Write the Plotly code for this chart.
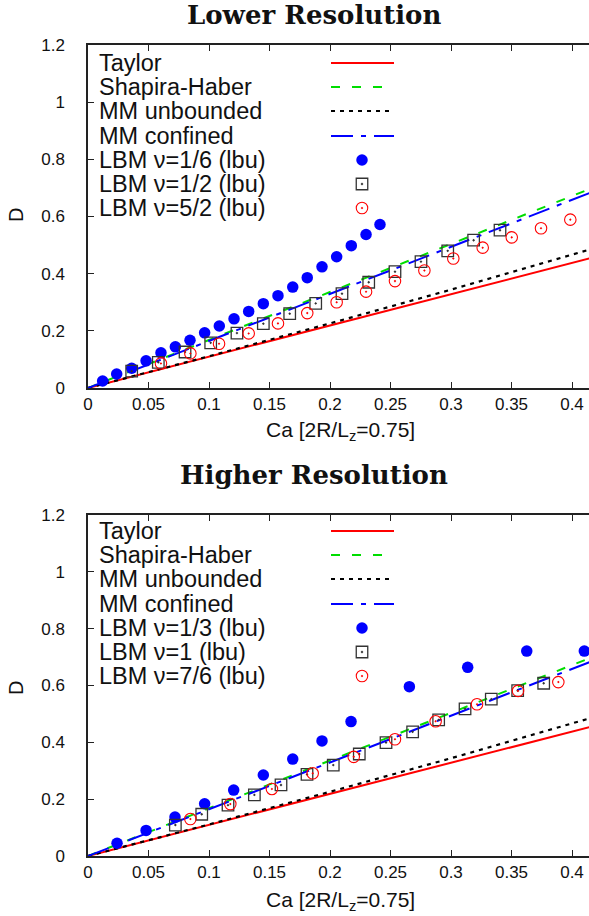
import plotly.graph_objects as go

# ---------------- data ----------------
ca_theory = [0.0, 0.1, 0.2, 0.3, 0.415]
taylor = [0.0, 0.109, 0.219, 0.328, 0.454]
shapira = [0.0, 0.168, 0.336, 0.504, 0.697]
mm_unbounded = [0.0, 0.111, 0.226, 0.344, 0.485]
mm_confined = [0.0, 0.165, 0.330, 0.493, 0.683]

# Lower resolution
lo_ca1 = [0.0121, 0.0237, 0.0361, 0.048, 0.0603, 0.0722, 0.0843, 0.0964, 0.1085, 0.1207,
          0.1328, 0.1449, 0.157, 0.1692, 0.1812, 0.1934, 0.2055, 0.2176, 0.2298, 0.2413]
lo_d1 = [0.0245, 0.049, 0.069, 0.095, 0.123, 0.144, 0.167, 0.193, 0.217, 0.242,
         0.268, 0.295, 0.323, 0.353, 0.386, 0.424, 0.459, 0.498, 0.537, 0.572]
lo_ca2 = [0.0361, 0.0581, 0.0802, 0.1014, 0.1231, 0.1449, 0.1667, 0.1882, 0.2099, 0.232,
          0.2537, 0.2752, 0.2973, 0.3187, 0.3405]
lo_d2 = [0.059, 0.090, 0.126, 0.158, 0.192, 0.225, 0.260, 0.296, 0.330, 0.370,
         0.407, 0.442, 0.480, 0.517, 0.552]
lo_ca3 = [0.0603, 0.0846, 0.1083, 0.1328, 0.157, 0.1812, 0.2055, 0.2298, 0.2537, 0.278,
          0.3019, 0.3262, 0.3502, 0.3744, 0.3986]
lo_d3 = [0.086, 0.121, 0.155, 0.191, 0.226, 0.262, 0.300, 0.337, 0.374, 0.411,
         0.453, 0.491, 0.527, 0.559, 0.589]

# Higher resolution
hi_ca1 = [0.024, 0.048, 0.0719, 0.0964, 0.1204, 0.1449, 0.1692, 0.1934, 0.2174, 0.2656,
          0.3138, 0.3626, 0.4102]
hi_d1 = [0.045, 0.090, 0.137, 0.184, 0.232, 0.285, 0.341, 0.405, 0.473, 0.596,
         0.664, 0.721, 0.721]
hi_ca2 = [0.0722, 0.094, 0.1157, 0.1375, 0.1595, 0.181, 0.2027, 0.2242, 0.2463, 0.2683,
          0.2898, 0.3116, 0.3333, 0.3551, 0.3766]
hi_d2 = [0.109, 0.147, 0.179, 0.215, 0.250, 0.287, 0.320, 0.359, 0.399, 0.437,
         0.479, 0.518, 0.552, 0.582, 0.608]
hi_ca3 = [0.0846, 0.1176, 0.152, 0.1857, 0.2196, 0.2537, 0.2873, 0.3215, 0.3554, 0.3887]
hi_d3 = [0.130, 0.183, 0.236, 0.291, 0.349, 0.411, 0.474, 0.534, 0.581, 0.612]

x_ticks = [0, 0.05, 0.1, 0.15, 0.2, 0.25, 0.3, 0.35, 0.4]
y_ticks = [0, 0.2, 0.4, 0.6, 0.8, 1, 1.2]

titles = ["Lower Resolution", "Higher Resolution"]
theory_names = ["Taylor", "Shapira-Haber", "MM unbounded", "MM confined"]
lbm_names_lo = ["LBM ν=1/6 (lbu)", "LBM ν=1/2 (lbu)", "LBM ν=5/2 (lbu)"]
lbm_names_hi = ["LBM ν=1/3 (lbu)", "LBM ν=1 (lbu)", "LBM ν=7/6 (lbu)"]

# ---------------- styles ----------------
W, H = 589, 916
L, R, T, B = 88, 0, 45, 60
RED = "#ff0000"
GREEN = "#00dd00"
BLACK = "#000000"
BLUE = "#0000ff"
AX = "#222222"
FONT = "Liberation Sans"

line_styles = [
    dict(color=RED, width=2, dash="solid"),
    dict(color=GREEN, width=2, dash="9px,12px"),
    dict(color=BLACK, width=2.2, dash="4px,5px"),
    dict(color=BLUE, width=2, dash="22px,8px,5px,8px"),
]
marker_styles = [
    dict(symbol="circle", size=11.5, color=BLUE),
    dict(symbol="square-open-dot", size=11.5, color="#333333", line=dict(width=1.3, color="#333333")),
    dict(symbol="circle-open-dot", size=11.5, color=RED, line=dict(width=1.1, color=RED)),
]

fig = go.Figure()

panels = [
    ("x", "y", [(lo_ca1, lo_d1), (lo_ca2, lo_d2), (lo_ca3, lo_d3)], lbm_names_lo, 0),
    ("x2", "y2", [(hi_ca1, hi_d1), (hi_ca2, hi_d2), (hi_ca3, hi_d3)], lbm_names_hi, 468),
]
theory_vals = [taylor, shapira, mm_unbounded, mm_confined]

for xa, ya, sets, names, off in panels:
    for name, vals, st in zip(theory_names, theory_vals, line_styles):
        fig.add_trace(go.Scatter(x=ca_theory, y=vals, mode="lines", name=name, line=st,
                                 xaxis=xa, yaxis=ya, showlegend=False, hoverinfo="skip"))
    for name, (cx, dy), ms in zip(names, sets, marker_styles):
        fig.add_trace(go.Scatter(x=cx, y=dy, mode="markers", name=name, marker=ms,
                                 xaxis=xa, yaxis=ya, showlegend=False))

# ---------------- gnuplot-style legends (overlay axis in pixel units) ----------------
legend_rows = [63, 87, 111, 136, 160, 184, 208]
ann = []
for xa, ya, sets, names, off in panels:
    labels = theory_names + names
    for i, lab in enumerate(labels):
        yy = legend_rows[i] + off
        ann.append(dict(x=97, y=yy, xref="x3", yref="y3", text=lab, showarrow=False,
                        xanchor="left", yanchor="middle",
                        font=dict(family=FONT, size=23.5, color="#111111")))
        if i < 4:
            fig.add_trace(go.Scatter(x=[331, 394], y=[yy, yy], mode="lines", line=line_styles[i],
                                     xaxis="x3", yaxis="y3", showlegend=False, hoverinfo="skip"))
        else:
            fig.add_trace(go.Scatter(x=[362], y=[yy], mode="markers", marker=marker_styles[i - 4],
                                     xaxis="x3", yaxis="y3", showlegend=False, hoverinfo="skip"))

# titles and axis titles
def px(xp):
    return (xp - L) / (W - L - R)

def py(yp):
    return (H - B - yp) / (H - T - B)

for ttl, ty in zip(titles, [15, 475]):
    ann.append(dict(x=px(314), y=py(ty), xref="paper", yref="paper", text="<b>" + ttl + "</b>",
                    showarrow=False, xanchor="center", yanchor="middle",
                    font=dict(family="DejaVu Serif", size=26, color="#111111")))
for ty in [431, 901]:
    ann.append(dict(x=px(340), y=py(ty), xref="paper", yref="paper",
                    text="Ca [2R/L<sub>z</sub>=0.75]", showarrow=False,
                    xanchor="center", yanchor="middle",
                    font=dict(family=FONT, size=21, color="#111111")))
for ty in [215, 688]:
    ann.append(dict(x=px(16), y=py(ty), xref="paper", yref="paper", text="D", textangle=-90,
                    showarrow=False, xanchor="center", yanchor="middle",
                    font=dict(family=FONT, size=20, color="#111111")))

xrange = [0, (W - L - R) / 1210.0]
common_x = dict(range=xrange, tickvals=x_ticks, ticks="inside", ticklen=6, tickwidth=1,
                tickcolor=AX, showline=True, linecolor=AX, linewidth=1.5, mirror="ticks",
                showgrid=False, zeroline=False, ticklabelstandoff=0, automargin=False,
                tickfont=dict(family=FONT, size=17, color="#111111"))
common_y = dict(range=[0, 1.2], tickvals=y_ticks, ticks="inside", ticklen=6, tickwidth=1,
                tickcolor=AX, showline=True, linecolor=AX, linewidth=1.5, mirror=False,
                showgrid=False, zeroline=False, ticklabelstandoff=18, automargin=False,
                tickfont=dict(family=FONT, size=17, color="#111111"))

fig.update_layout(
    width=W, height=H,
    margin=dict(l=L, r=R, t=T, b=B),
    paper_bgcolor="white", plot_bgcolor="rgba(0,0,0,0)",
    showlegend=False,
    xaxis=dict(domain=[0, 1], anchor="y", **common_x),
    yaxis=dict(domain=[py(388), 1.0], anchor="x", **common_y),
    xaxis2=dict(domain=[0, 1], anchor="y2", **common_x),
    yaxis2=dict(domain=[0, py(515)], anchor="x2", **common_y),
    xaxis3=dict(domain=[0, 1], anchor="y3", range=[L, W - R], visible=False, fixedrange=True,
                automargin=False),
    yaxis3=dict(domain=[0, 1], anchor="x3", range=[H - B, T], visible=False, fixedrange=True,
                automargin=False),
    annotations=ann,
)

fig.write_html(
    "out.html",
    config={"displayModeBar": False},
    post_script="document.body.style.margin='0';document.body.style.overflow='hidden';",
)
